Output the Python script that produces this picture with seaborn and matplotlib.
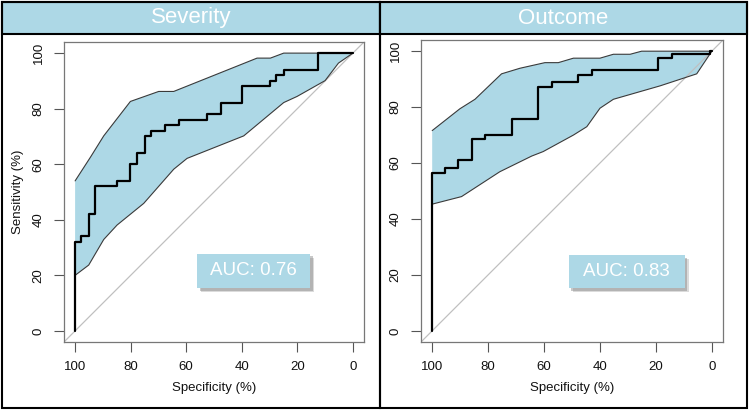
import numpy as np
import matplotlib
matplotlib.use("Agg")
import matplotlib.pyplot as plt
import matplotlib.patches as mpatches
import matplotlib.patheffects as pe
import seaborn as sns

# ROC curve corner points (specificity %, sensitivity %)
sev_spec = [100, 100, 97.8, 97.8, 95.1, 95.1, 92.7, 92.7, 84.9, 84.9, 80.1, 80.1,
            77.7, 77.7, 74.7, 74.7, 72.5, 72.5, 67.5, 67.5, 62.7, 62.7, 52.5, 52.5,
            47.5, 47.5, 40.0, 40.0, 29.7, 29.7, 27.6, 27.6, 24.9, 24.9, 12.4, 12.4, 0]
sev_sens = [0, 32, 32, 34, 34, 42, 42, 52, 52, 54, 54, 60, 60, 64, 64, 70, 70, 72,
            72, 74, 74, 76, 76, 78, 78, 82, 82, 88, 88, 90, 90, 92, 92, 94, 94, 100, 100]

# confidence band of the severity curve
sev_up_spec = [100, 94.5, 89.7, 80.1, 69.9, 64.5, 34.5, 29.7, 24.9, 0]
sev_up_sens = [54, 62.5, 70.2, 82.6, 86.2, 86.2, 98.2, 98.2, 100, 100]
sev_lo_spec = [100, 95.1, 89.7, 84.9, 75.3, 64.5, 59.7, 39.3, 24.9, 20.1, 10.0, 5.2, 0]
sev_lo_sens = [20, 23.7, 32.9, 38.1, 45.9, 58.2, 62.1, 70.2, 82.2, 84.4, 90.1, 96.4, 100]

out_spec = [100, 100, 95.5, 95.5, 90.7, 90.7, 85.9, 85.9, 81.1, 81.1, 71.6, 71.6,
            62.1, 62.1, 57.3, 57.3, 47.7, 47.7, 43.0, 43.0, 19.1, 19.1, 14.3, 14.3,
            0.6, 0.6, 0]
out_sens = [0, 56.6, 56.6, 58.4, 58.4, 61.1, 61.1, 68.5, 68.5, 69.9, 69.9, 75.7,
            75.7, 87.1, 87.1, 88.9, 88.9, 91.5, 91.5, 93.1, 93.1, 97.4, 97.4, 98.9,
            98.9, 100, 100]

out_up_spec = [100, 90.1, 84.7, 75.2, 68.6, 59.7, 54.9, 49.5, 40.0, 35.2, 29.2, 25.1, 0]
out_up_sens = [71.6, 79.4, 82.8, 91.9, 93.9, 95.9, 95.9, 97.5, 97.5, 98.9, 98.9, 100, 100]
out_lo_spec = [100, 89.5, 75.8, 64.4, 60.3, 49.5, 44.7, 40.0, 35.2, 18.5, 5.4, 0]
out_lo_sens = [45.3, 48.0, 56.9, 62.5, 64.1, 70.0, 73.0, 79.6, 82.8, 87.6, 91.9, 100]

titles = ["Severity", "Outcome"]
auc_labels = ["AUC: 0.76", "AUC: 0.83"]
ticks = [0, 20, 40, 60, 80, 100]

W, H = 749, 411
BLUE = "#ADD8E6"

sns.set_theme(style="ticks")
plt.rcParams['font.family'] = ['Liberation Sans', 'DejaVu Sans']

fig = plt.figure(figsize=(W / 100, H / 100), dpi=100)


def frac(x0, y0, w, h):
    # pixel box (top-left origin) -> figure fraction rect
    return [x0 / W, 1 - (y0 + h) / H, w / W, h / H]


# panel frames and header bars
for x0, x1, title in [(2, 380, titles[0]), (380, 747, titles[1])]:
    r = frac(x0, 2, x1 - x0, 32)
    fig.patches.append(mpatches.Rectangle((r[0], r[1]), r[2], r[3], transform=fig.transFigure,
                                          facecolor=BLUE, edgecolor="black", lw=1.5, zorder=0))
    r = frac(x0, 2, x1 - x0, 406)
    fig.patches.append(mpatches.Rectangle((r[0], r[1]), r[2], r[3], transform=fig.transFigure,
                                          facecolor="none", edgecolor="black", lw=1.5, zorder=0))
    fig.text((x0 + x1) / 2 / W, 1 - 18 / H, title, color="white", fontsize=16,
             ha="center", va="center")

ax1 = fig.add_axes(frac(64, 42, 300, 300))
ax2 = fig.add_axes(frac(421, 40, 302, 302))

panels = [
    (ax1, sev_spec, sev_sens, sev_up_spec, sev_up_sens, sev_lo_spec, sev_lo_sens, auc_labels[0]),
    (ax2, out_spec, out_sens, out_up_spec, out_up_sens, out_lo_spec, out_lo_sens, auc_labels[1]),
]

for ax, sp, se, usp, use, lsp, lse, auc in panels:
    # confidence band polygon
    ax.fill(usp + lsp[::-1], use + lse[::-1], color=BLUE, lw=0, zorder=1)
    sns.lineplot(x=usp, y=use, sort=False, estimator=None, color="#3a3a3a", lw=0.8, ax=ax, zorder=2)
    sns.lineplot(x=lsp, y=lse, sort=False, estimator=None, color="#3a3a3a", lw=0.8, ax=ax, zorder=2)
    ax.axline((100, 0), (0, 100), color="#c0c0c0", lw=0.9, zorder=1.5)
    sns.lineplot(x=sp, y=se, sort=False, estimator=None, color="black", lw=1.6, ax=ax, zorder=3)

    ax.set_xlim(104, -4)
    ax.set_ylim(-4, 104)
    ax.set_xticks(ticks)
    ax.set_yticks(ticks)
    ax.set_yticklabels([str(t) for t in ticks], rotation=90, va="center")
    ax.tick_params(length=7, width=0.8, color="#555555", labelsize=9.5, pad=7, labelcolor="#111111")
    for s in ax.spines.values():
        s.set_color("#777777")
        s.set_linewidth(0.9)
    ax.set_facecolor("white")
    ax.set_xlabel("Specificity (%)", fontsize=9.5, labelpad=6, color="#111111")
    ax.set_ylabel("")

    # AUC label box with soft drop shadow
    bx, by, bw, bh = 56.0, 15.5, 40.5, 12.3
    if ax is ax2:
        bx, by, bw, bh = 51.2, 15.4, 41.5, 11.8
    box = mpatches.Rectangle((bx, by), -bw, bh, facecolor=BLUE, edgecolor="none", zorder=4,
                             path_effects=[pe.withSimplePatchShadow(offset=(3, -3), shadow_rgbFace="#999999", alpha=0.35),
                                           pe.withSimplePatchShadow(offset=(2, -2), shadow_rgbFace="#777777", alpha=0.4),
                                           pe.Normal()])
    ax.add_patch(box)
    ax.text(bx - bw / 2, by + bh / 2, auc, color="white", fontsize=13.5, ha="center", va="center", zorder=5)

ax1.set_ylabel("Sensitivity (%)", fontsize=9.5, labelpad=6, color="#111111")

fig.savefig("out.png", dpi=100)
